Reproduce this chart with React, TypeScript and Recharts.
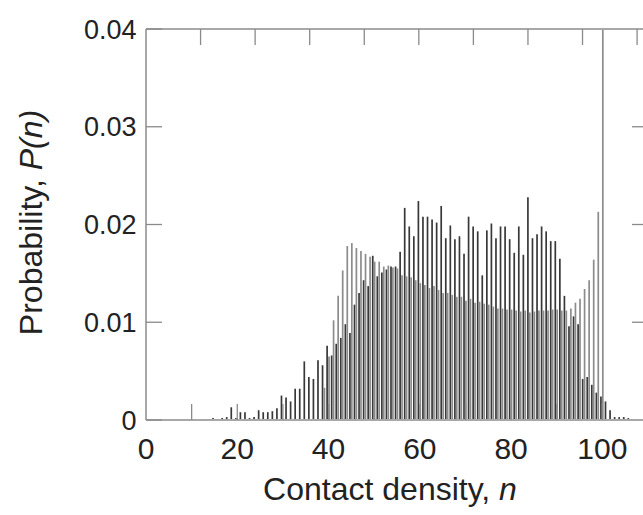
import React from 'react';
import { BarChart, Bar, XAxis, YAxis } from 'recharts';

// Contact density n runs from nStart upward, one entry per integer n
const nStart = 14;

// Dark series (spiky distribution)
const darkP = [
  0, 0.0002, 0, 0.0002, 0.0003, 0.0013, 0.0002, 0.0008, 0.0008, 0.0002,
  0.0003, 0.001, 0.0008, 0.0008, 0.0009, 0.0012, 0.0025, 0.0023, 0.0019, 0.0032,
  0.0032, 0.006, 0.0044, 0.0042, 0.0061, 0.0056, 0.0076, 0.0066, 0.0078, 0.0084,
  0.0098, 0.0089, 0.0118, 0.013, 0.0143, 0.0137, 0.0168, 0.0147, 0.0151, 0.0154,
  0.0157, 0.0157, 0.0172, 0.0217, 0.0198, 0.0188, 0.0224, 0.0208, 0.0208, 0.0205,
  0.0202, 0.0219, 0.0186, 0.0199, 0.0185, 0.0188, 0.017, 0.0208, 0.0198, 0.0193,
  0.0148, 0.0194, 0.0201, 0.0186, 0.0198, 0.0198, 0.0185, 0.0171, 0.0198, 0.0169,
  0.0228, 0.0186, 0.019, 0.0198, 0.0193, 0.0183, 0.0183, 0.0165, 0.0127, 0.0096,
  0.0106, 0.0098, 0.0042, 0.0044, 0.0036, 0.0028, 0.0024, 0.0019, 0.001, 0.0003,
  0.0003, 0.0003, 0.0002,
];

// Gray series (smooth distribution with the spike at n = 100)
const grayP = [
  0, 0, 0, 0, 0, 0, 0, 0, 0, 0,
  0, 0, 0, 0, 0, 0, 0, 0, 0, 0,
  0, 0, 0, 0, 0, 0.0033, 0.0065, 0.0102, 0.0127, 0.0153,
  0.0178, 0.0181, 0.0176, 0.0173, 0.017, 0.0167, 0.0162, 0.0162, 0.0157, 0.0158,
  0.0156, 0.0155, 0.0148, 0.0147, 0.0146, 0.0143, 0.014, 0.0138, 0.0135, 0.0137,
  0.0133, 0.013, 0.013, 0.0128, 0.0126, 0.0126, 0.0122, 0.0124, 0.012, 0.0121,
  0.0119, 0.0118, 0.0116, 0.0114, 0.0114, 0.0113, 0.0113, 0.0112, 0.0111, 0.0112,
  0.011, 0.0111, 0.0112, 0.0112, 0.0112, 0.0113, 0.0113, 0.0112, 0.0112, 0.0114,
  0.012, 0.0124, 0.0134, 0.0143, 0.0164, 0.0213, 0.045, 0, 0, 0,
  0, 0, 0,
];

const xBottomTicks = [0, 10, 20, 30, 40, 50, 60, 70, 80, 90, 100];
const xTopTicks = [10, 20, 30, 40, 50, 60, 70, 80, 90, 100];
const yTicks = [0, 0.01, 0.02, 0.03, 0.04];
const yRightTicks = [0.01, 0.02, 0.03];
const xDomain = [0, 110];
const yDomain = [0, 0.04];

const data = darkP.map((v, i) => ({ n: nStart + i, dark: v, gray: grayP[i] }));

const FONT = '"Liberation Sans", Arial, Helvetica, sans-serif';
const TEXT = '#222222';
const TICK = '#8a8a8a';
const FRAME = '#a8a8a8';
const TL = 16;

const LeftTick = (props: any) => {
  const { x, y, payload } = props;
  const v = payload.value;
  const label = v === 0 ? '0' : v.toFixed(2);
  return (
    <g>
      <line x1={x} x2={x + TL} y1={y} y2={y} stroke={TICK} strokeWidth={1.3} />
      <text x={x - 9.5} y={y} dy={9.6} textAnchor="end" fontSize={27} fill={TEXT} fontFamily={FONT}>
        {label}
      </text>
    </g>
  );
};

const RightTick = (props: any) => {
  const { x, y } = props;
  return <line x1={x - TL} x2={x} y1={y} y2={y} stroke={TICK} strokeWidth={1.3} />;
};

const TopTick = (props: any) => {
  const { x, y } = props;
  return <line x1={x} x2={x} y1={y} y2={y + TL} stroke={TICK} strokeWidth={1.3} />;
};

const BottomTick = (props: any) => {
  const { x, y, payload } = props;
  const v = payload.value;
  return (
    <g>
      {v > 0 ? <line x1={x} x2={x} y1={y - TL} y2={y} stroke={TICK} strokeWidth={1.3} /> : null}
      {v % 20 === 0 ? (
        <text x={x} y={y + 39} textAnchor="middle" fontSize={30} fill={TEXT} fontFamily={FONT}>
          {String(v)}
        </text>
      ) : null}
    </g>
  );
};

const XTitle = (props: any) => {
  const vb = props.viewBox || { x: 146, y: 420, width: 502 };
  const cx = vb.x + vb.width / 2 - 7;
  return (
    <text x={cx} y={vb.y + 80} textAnchor="middle" fontSize={32} fill={TEXT} fontFamily={FONT}>
      <tspan>{'Contact density,  '}</tspan>
      <tspan fontStyle="italic">n</tspan>
    </text>
  );
};

const YTitle = (props: any) => {
  const vb = props.viewBox || { x: 0, y: 29, width: 146, height: 391 };
  const cy = vb.y + vb.height / 2 - 2;
  const cx = 42;
  return (
    <text
      x={cx}
      y={cy}
      transform={`rotate(-90, ${cx}, ${cy})`}
      textAnchor="middle"
      fontSize={32}
      fill={TEXT}
      fontFamily={FONT}
    >
      <tspan>{'Probability,  '}</tspan>
      <tspan fontStyle="italic">P(n)</tspan>
    </text>
  );
};

export default function App() {
  return (
    <div
      style={{
        position: 'fixed',
        left: 0,
        top: 0,
        width: 643,
        height: 515,
        overflow: 'hidden',
        background: '#fff',
      }}
    >
      <BarChart
        width={660}
        height={515}
        data={data}
        margin={{ top: 28, right: 11, bottom: 94, left: 0 }}
        barGap={0.2}
        barCategoryGap={0}
      >
        <XAxis
          xAxisId="b"
          dataKey="n"
          type="number"
          domain={xDomain}
          ticks={xBottomTicks}
          allowDataOverflow
          height={1}
          tickSize={0}
          tickMargin={0}
          tickLine={false}
          axisLine={{ stroke: FRAME, strokeWidth: 2 }}
          tick={<BottomTick />}
          interval={0}
          label={<XTitle />}
        />
        <XAxis
          xAxisId="t"
          orientation="top"
          type="number"
          domain={xDomain}
          ticks={xTopTicks}
          allowDataOverflow
          height={1}
          tickSize={0}
          tickMargin={0}
          tickLine={false}
          axisLine={{ stroke: FRAME, strokeWidth: 2 }}
          tick={<TopTick />}
          interval={0}
        />
        <YAxis
          yAxisId="l"
          type="number"
          domain={yDomain}
          ticks={yTicks}
          allowDataOverflow
          width={146}
          tickSize={0}
          tickMargin={0}
          tickLine={false}
          axisLine={{ stroke: FRAME, strokeWidth: 2 }}
          tick={<LeftTick />}
          interval={0}
          label={<YTitle />}
        />
        <YAxis
          yAxisId="r"
          orientation="right"
          type="number"
          domain={yDomain}
          ticks={yRightTicks}
          allowDataOverflow
          width={1}
          tickSize={0}
          tickMargin={0}
          tickLine={false}
          axisLine={{ stroke: FRAME, strokeWidth: 2 }}
          tick={<RightTick />}
          interval={0}
        />
        <Bar xAxisId="b" yAxisId="l" dataKey="dark" fill="#383838" barSize={1.7} isAnimationActive={false} />
        <Bar xAxisId="b" yAxisId="l" dataKey="gray" fill="#8c8c8c" barSize={1.7} isAnimationActive={false} />
      </BarChart>
    </div>
  );
}
